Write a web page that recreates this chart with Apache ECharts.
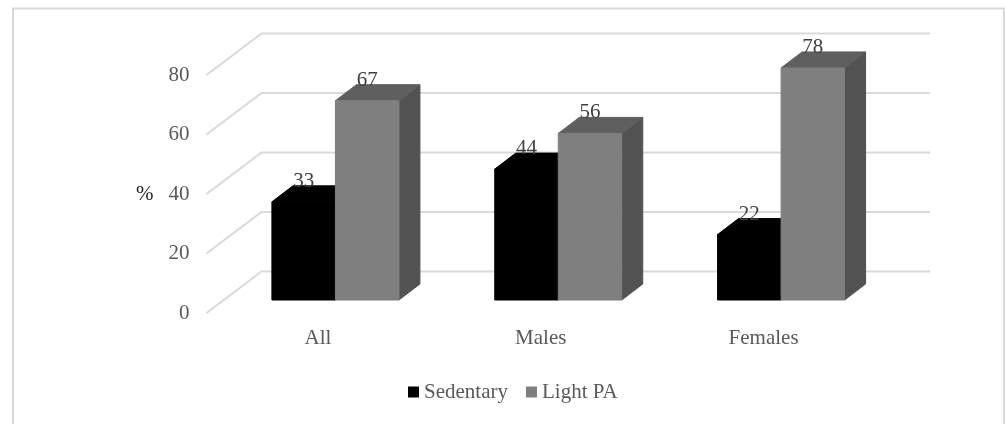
<!DOCTYPE html>
<html>
<head>
<meta charset="utf-8">
<style>html,body{margin:0;padding:0;background:#fff;overflow:hidden}#chart{width:1005px;height:424px}</style>
<script src="https://cdn.jsdelivr.net/npm/echarts@6/dist/echarts.min.js"></script>
</head>
<body>
<div id="chart"></div>
<script>
const categories = ['All', 'Males', 'Females'];
const sedentary = [33, 44, 22];
const lightPA = [67, 56, 78];
const yTicks = [0, 20, 40, 60, 80];

const serif = '"Liberation Serif", "Times New Roman", serif';

// Oblique projection that gives the bars and gridlines their 3D box look
const wall = { dx: 55, dy: -41.5 };   // full floor depth
const inset = { dx: 17.5, dy: -13 };  // bar front face, measured from the front of the floor
const depth = { dx: 21, dy: -16 };    // bar depth
const barShare = 0.285;               // bar width as a share of a category band

function poly(points, fill) {
  return { type: 'polygon', shape: { points }, style: { fill, stroke: fill, lineWidth: 1 } };
}

// Each gridline runs up the side wall, then along the back wall
function renderGridLine(params, api) {
  const cs = params.coordSys;
  const y = api.coord([0, api.value(0)])[1];
  return {
    type: 'polyline',
    shape: { points: [[cs.x, y], [cs.x + wall.dx, y + wall.dy], [cs.x + cs.width + wall.dx, y + wall.dy]] },
    style: { fill: null, stroke: '#d9d9d9', lineWidth: 2 }
  };
}

// side: -1 puts the bar left of the band centre, 1 puts it right
function barRenderer(side, faces) {
  return function (params, api) {
    const idx = api.value(0), val = api.value(1);
    const top = api.coord([idx, val]);
    const base = api.coord([idx, 0]);
    const w = api.size([1, 0])[0] * barShare;
    const xl = top[0] + inset.dx + (side < 0 ? -w : 0);
    const xr = xl + w;
    const yt = top[1] + inset.dy;
    const yb = base[1] + inset.dy;
    return {
      type: 'group',
      children: [
        poly([[xr, yt], [xr + depth.dx, yt + depth.dy], [xr + depth.dx, yb + depth.dy], [xr, yb]], faces.side),
        poly([[xl, yt], [xl + depth.dx, yt + depth.dy], [xr + depth.dx, yt + depth.dy], [xr, yt]], faces.top),
        poly([[xl, yt], [xr, yt], [xr, yb], [xl, yb]], faces.front),
        {
          type: 'text',
          z2: 10,
          style: {
            x: (xl + xr) / 2, y: yt - 20.5, text: String(val),
            fill: '#404040', font: '21px ' + serif, align: 'center', verticalAlign: 'middle'
          }
        }
      ]
    };
  };
}

const chart = echarts.init(document.getElementById('chart'), null, { renderer: 'canvas' });
chart.setOption({
  animation: false,
  backgroundColor: '#fff',
  graphic: [{
    type: 'rect', silent: true, z: -1,
    shape: { x: 13, y: 8.5, width: 991, height: 420 },
    style: { fill: 'none', stroke: '#d9d9d9', lineWidth: 2 }
  }],
  grid: { left: 206.5, right: 130, top: 75, bottom: 111 },
  legend: {
    left: 403, top: 376.5, itemWidth: 11, itemHeight: 11, itemGap: 18,
    icon: 'rect',
    data: ['Sedentary', 'Light PA'],
    textStyle: { fontFamily: serif, fontSize: 21, color: '#595959' }
  },
  xAxis: {
    type: 'category', data: categories,
    axisLine: { show: false }, axisTick: { show: false },
    axisLabel: { margin: 15, fontFamily: serif, fontSize: 21, color: '#595959' }
  },
  yAxis: {
    type: 'value', min: 0, max: 80, interval: 20,
    name: '%', nameLocation: 'middle', nameRotate: 0, nameGap: 53,
    nameTextStyle: { fontFamily: serif, fontSize: 21, color: '#262626', padding: [11, 0, 0, 0] },
    axisLine: { show: false }, axisTick: { show: false }, splitLine: { show: false },
    axisLabel: { margin: 17, padding: [2, 0, 0, 0], fontFamily: serif, fontSize: 21, color: '#595959' }
  },
  series: [
    {
      type: 'custom', name: 'grid', silent: true, z: 1,
      data: yTicks.map(v => [v]),
      encode: { y: 0 },
      renderItem: renderGridLine
    },
    {
      type: 'custom', name: 'Sedentary', z: 2,
      itemStyle: { color: '#000000' },
      data: sedentary.map((v, i) => [i, v]),
      encode: { x: 0, y: 1 },
      renderItem: barRenderer(-1, { front: '#000000', top: '#000000', side: '#000000' })
    },
    {
      type: 'custom', name: 'Light PA', z: 3,
      itemStyle: { color: '#7f7f7f' },
      data: lightPA.map((v, i) => [i, v]),
      encode: { x: 0, y: 1 },
      renderItem: barRenderer(1, { front: '#7f7f7f', top: '#5f5f5f', side: '#525252' })
    }
  ]
});
</script>
</body>
</html>
